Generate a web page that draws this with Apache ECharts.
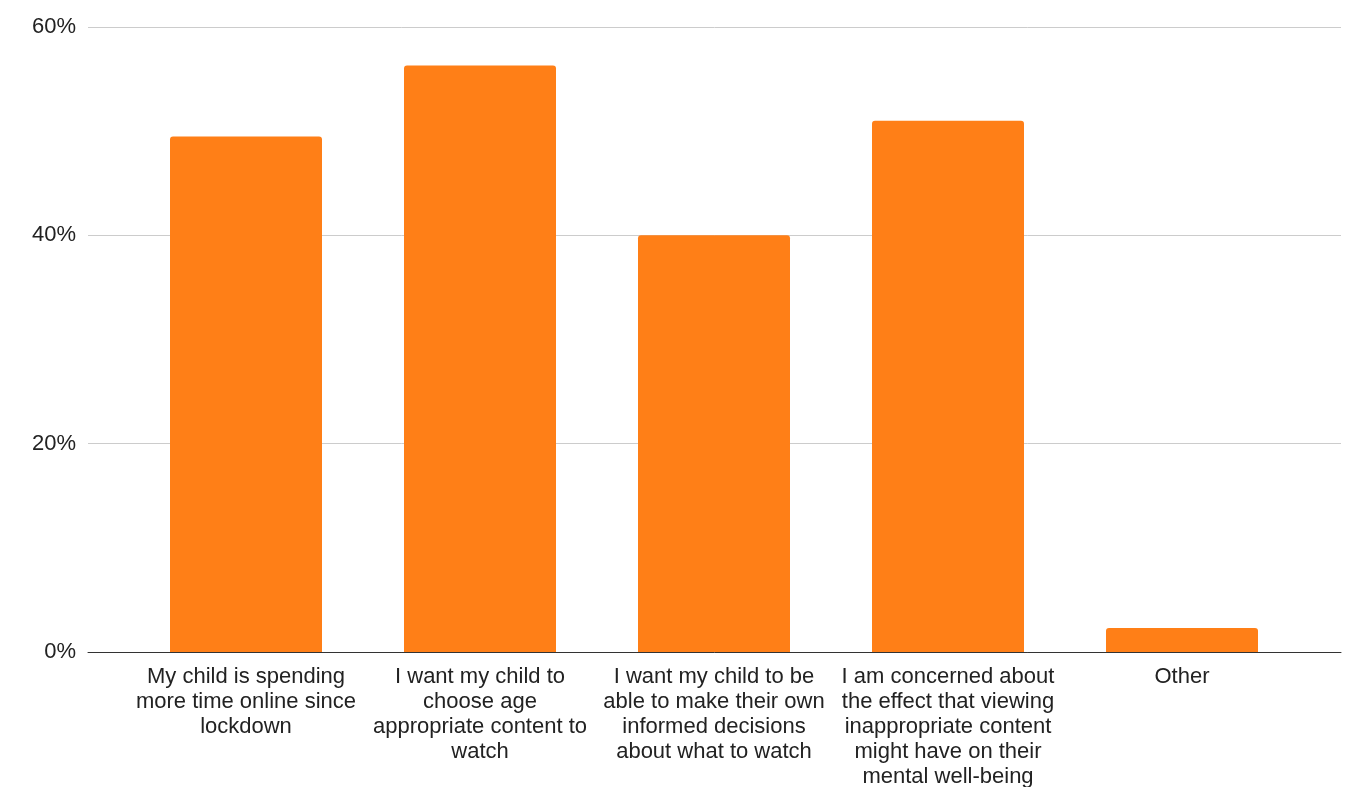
<!DOCTYPE html>
<html>
<head>
<meta charset="utf-8">
<script src="https://cdn.jsdelivr.net/npm/echarts@6/dist/echarts.min.js"></script>
<style>
  html, body { margin: 0; padding: 0; background: #ffffff; }
  #chart { width: 1364px; height: 787px; }
</style>
</head>
<body>
<div id="chart"></div>
<script>
// Reasons given by parents (share of respondents, %)
const categories = [
  'My child is spending more time online since lockdown',
  'I want my child to choose age appropriate content to watch',
  'I want my child to be able to make their own informed decisions about what to watch',
  'I am concerned about the effect that viewing inappropriate content might have on their mental well-being',
  'Other'
];
const categoryLabels = [
  'My child is spending\nmore time online since\nlockdown',
  'I want my child to\nchoose age\nappropriate content to\nwatch',
  'I want my child to be\nable to make their own\ninformed decisions\nabout what to watch',
  'I am concerned about\nthe effect that viewing\ninappropriate content\nmight have on their\nmental well-being',
  'Other'
];
const values = [49.5, 56.3, 40.0, 51.0, 2.3];
const yTicks = { min: 0, max: 60, interval: 20 };

const FONT = '"Liberation Sans", Arial, sans-serif';
const chart = echarts.init(document.getElementById('chart'), null, { renderer: 'canvas' });

chart.setOption({
  animation: false,
  backgroundColor: '#ffffff',
  textStyle: { fontFamily: FONT },
  grid: [
    // frame with gridlines and baseline
    { left: 88, right: 23, top: 27, bottom: 135, containLabel: false, outerBoundsMode: 'none' },
    // inset area holding the bars
    { left: 129, right: 65, top: 27, bottom: 135, containLabel: false, outerBoundsMode: 'none' }
  ],
  xAxis: [
    {
      gridIndex: 0, type: 'value', min: 0, max: 1, z: 5,
      axisLine: { show: true, onZero: false, lineStyle: { color: '#333333', width: 1 } },
      axisTick: { show: false }, axisLabel: { show: false }, splitLine: { show: false }
    },
    {
      gridIndex: 1, type: 'category', data: categories,
      axisLine: { show: false }, axisTick: { show: false },
      axisLabel: {
        interval: 0, margin: 12, color: '#222222', fontSize: 22, lineHeight: 25,
        fontFamily: FONT, align: 'center',
        formatter: (v, i) => categoryLabels[i]
      }
    }
  ],
  yAxis: [
    {
      gridIndex: 0, type: 'value', min: yTicks.min, max: yTicks.max, interval: yTicks.interval,
      axisLine: { show: false }, axisTick: { show: false },
      axisLabel: {
        formatter: '{value}%', color: '#222222', fontSize: 22, margin: 12, fontFamily: FONT,
        padding: [4, 0, 0, 0]
      },
      splitLine: { show: true, lineStyle: { color: '#cccccc', width: 1 } }
    },
    {
      gridIndex: 1, type: 'value', min: yTicks.min, max: yTicks.max, interval: yTicks.interval,
      show: false, splitLine: { show: false }
    }
  ],
  series: [
    {
      type: 'bar', xAxisIndex: 1, yAxisIndex: 1, data: values,
      barWidth: 152,
      itemStyle: { color: '#ff7f17', borderRadius: [3, 3, 0, 0] }
    }
  ]
});
</script>
</body>
</html>
